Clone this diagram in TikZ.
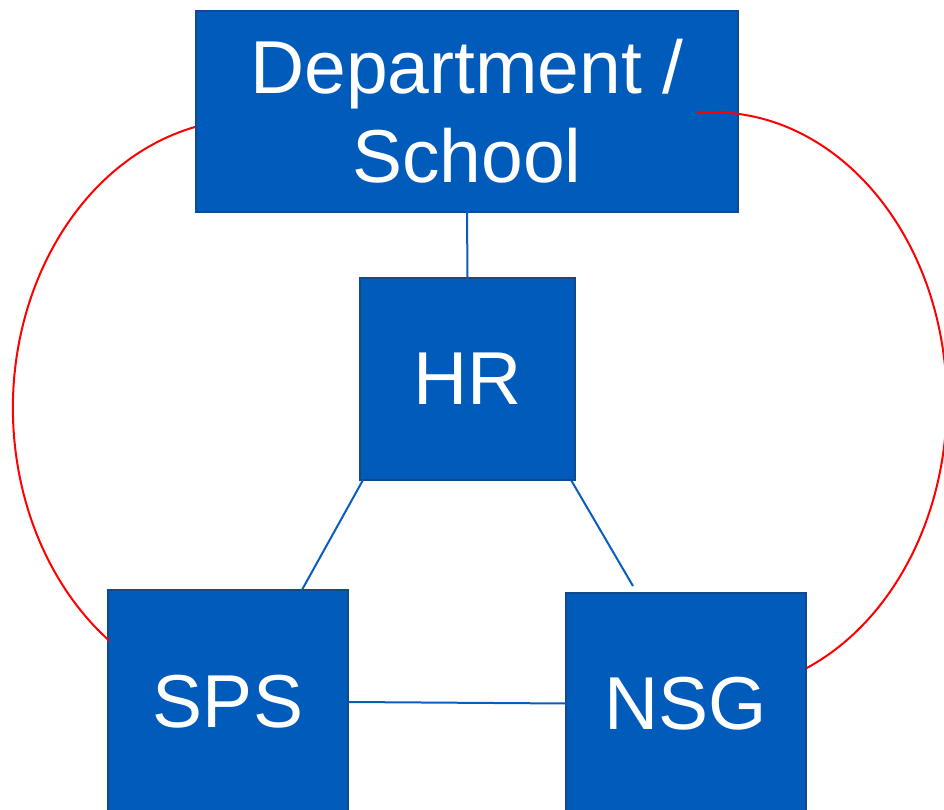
\documentclass[tikz,border=0pt]{standalone}
\usepackage{fontspec}
\setmainfont{Liberation Sans}
\usetikzlibrary{calc}
\definecolor{boxfill}{RGB}{0,91,187}
\definecolor{boxedge}{RGB}{16,74,140}
\definecolor{linkblue}{RGB}{10,92,190}
\begin{document}
\begin{tikzpicture}[x=1pt,y=1pt,
  unit/.style={draw=boxedge, fill=boxfill, line width=2pt, text=white,
    inner sep=0pt, outer sep=0pt, align=center,
    font=\fontsize{75}{89}\selectfont},
  link/.style={draw=linkblue, line width=2pt},
  loop/.style={draw=red, line width=2pt}]
\useasboundingbox (0,0) rectangle (944,810);

% organisational units
\node[unit, minimum width=542pt, minimum height=201pt] (dept) at (467,698.5) {Department /\\School};
\node[unit, minimum width=215pt, minimum height=202pt] (hr) at (467.5,431) {HR};
\node[unit, minimum width=240pt, minimum height=224pt] (sps) at (228,108) {SPS};
\node[unit, minimum width=240pt, minimum height=221pt] (nsg) at (686,106.5) {NSG};

% reporting lines
\draw[link] (dept.south) -- (hr.north);
\coordinate (spstop) at ($(sps.north west)!0.808!(sps.north east)$);
\draw[link] ($(hr.south west)+(3,0)$) -- (spstop);
\coordinate (nsgtip) at ($(nsg.north west)!0.279!(nsg.north east)+(0,7)$);
\draw[link] ($(hr.south east)+(-4,0)$) -- (nsgtip);
\draw[link] (sps.east) -- (nsg.west);

% outer loops linking the department with SPS and NSG
\coordinate (leftstart) at ($(dept.west)+(-1,-15.5)$);
\draw[loop] (leftstart) arc[start angle=103.4, end angle=233.6, x radius=237, y radius=289];
\coordinate (rightstart) at ($(dept.center)+(230,-1.5)$);
\draw[loop] (rightstart) arc[start angle=94, end angle=-66.4, x radius=233.5, y radius=290];
\end{tikzpicture}
\end{document}
